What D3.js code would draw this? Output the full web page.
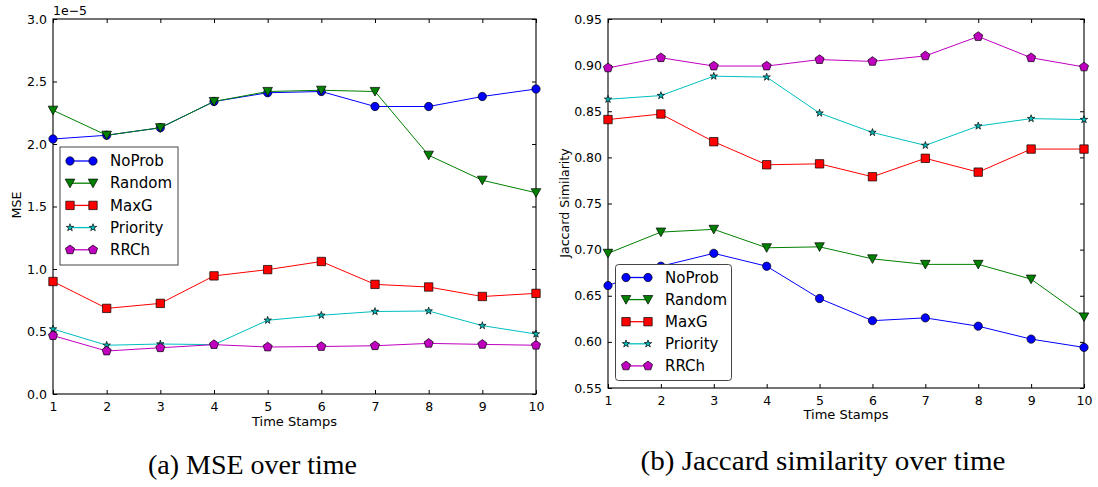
<!DOCTYPE html>
<html><head><meta charset="utf-8">
<script src="https://cdn.jsdelivr.net/npm/d3@7"></script>
<style>body{margin:0;background:#fff}svg{display:block}</style>
</head><body>
<svg id="c" width="1098" height="487"></svg>
<script>
const timeStamps = [1,2,3,4,5,6,7,8,9,10];
const seriesNames = ["NoProb","Random","MaxG","Priority","RRCh"];
const seriesColors = ["#0000ff","#008000","#ff0000","#00bfbf","#bf00bf"];
const seriesMarkers = ["circle","triangleDown","square","star","pentagon"];

// MSE (x 1e-5)
const mseNoProb   = [2.04,2.07,2.13,2.34,2.41,2.42,2.30,2.30,2.38,2.44];
const mseRandom   = [2.27,2.07,2.13,2.34,2.42,2.43,2.42,1.91,1.71,1.61];
const mseMaxG     = [0.90,0.685,0.725,0.945,0.995,1.06,0.877,0.856,0.78,0.805];
const msePriority = [0.52,0.39,0.40,0.395,0.59,0.63,0.66,0.664,0.547,0.48];
const mseRRCh     = [0.467,0.344,0.37,0.395,0.376,0.38,0.386,0.405,0.397,0.39];
const mseTicks = [0.0,0.5,1.0,1.5,2.0,2.5,3.0];

// Jaccard similarity
const jacNoProb   = [0.661,0.682,0.696,0.682,0.647,0.623,0.626,0.617,0.603,0.594];
const jacRandom   = [0.696,0.719,0.722,0.702,0.703,0.690,0.684,0.684,0.668,0.627];
const jacMaxG     = [0.841,0.847,0.817,0.792,0.793,0.779,0.799,0.784,0.809,0.809];
const jacPriority = [0.863,0.867,0.888,0.887,0.848,0.827,0.813,0.834,0.842,0.841];
const jacRRCh     = [0.897,0.908,0.899,0.899,0.906,0.904,0.910,0.931,0.908,0.898];
const jacTicks = [0.55,0.60,0.65,0.70,0.75,0.80,0.85,0.90,0.95];

const svg = d3.select("#c");
const FONT = "'DejaVu Sans', sans-serif";
const SERIF = "'Liberation Serif', 'Times New Roman', Times, serif";

function markerPath(type){
  const p = d3.path();
  if(type==="circle"){ return d3.symbol(d3.symbolCircle, 54)(); }
  if(type==="square"){ const s=4.2; p.rect(-s,-s,2*s,2*s); return p.toString(); }
  if(type==="triangleDown"){ const s=4.8; p.moveTo(-s,-s*0.85); p.lineTo(s,-s*0.85); p.lineTo(0,s*0.95); p.closePath(); return p.toString(); }
  if(type==="star"){ return d3.symbol(d3.symbolStar, 17)(); }
  if(type==="pentagon"){ const r=4.8; for(let i=0;i<5;i++){const a=-Math.PI/2+i*2*Math.PI/5; const x=r*Math.cos(a), y=r*Math.sin(a); if(i===0)p.moveTo(x,y); else p.lineTo(x,y);} p.closePath(); return p.toString(); }
}

function drawChart(cfg){
  const g = svg.append("g");
  const x = d3.scaleLinear().domain([1,10]).range([cfg.left,cfg.right]);
  const y = d3.scaleLinear().domain(cfg.domain).range([cfg.bottom,cfg.top]);
  const tl = 4;
  const axL = g.append("g").attr("transform",`translate(${cfg.left},0)`)
    .call(d3.axisLeft(y).tickValues(cfg.yTicks).tickFormat(cfg.yFmt).tickSizeInner(-tl).tickSizeOuter(0).tickPadding(6));
  const axR = g.append("g").attr("transform",`translate(${cfg.right},0)`)
    .call(d3.axisRight(y).tickValues(cfg.yTicks).tickFormat("").tickSizeInner(-tl).tickSizeOuter(0));
  const axB = g.append("g").attr("transform",`translate(0,${cfg.bottom})`)
    .call(d3.axisBottom(x).tickValues(timeStamps).tickFormat(d3.format("d")).tickSizeInner(-tl).tickSizeOuter(0).tickPadding(8));
  const axT = g.append("g").attr("transform",`translate(0,${cfg.top})`)
    .call(d3.axisTop(x).tickValues(timeStamps).tickFormat("").tickSizeInner(-tl).tickSizeOuter(0));
  [axL,axR,axB,axT].forEach(a=>{
    a.select(".domain").remove();
    a.selectAll("line").attr("stroke","#000").attr("stroke-width",1);
    a.selectAll("text").attr("font-family",FONT).attr("font-size",12.5).attr("fill","#000");
  });
  axB.selectAll("text").attr("dy","0.71em");
  g.append("rect").attr("x",cfg.left).attr("y",cfg.top).attr("width",cfg.right-cfg.left).attr("height",cfg.bottom-cfg.top)
    .attr("fill","none").attr("stroke","#000").attr("stroke-width",1.1);

  const line = d3.line().x((d,i)=>x(timeStamps[i])).y(d=>y(d));
  cfg.series.forEach((vals,si)=>{
    g.append("path").datum(vals).attr("d",line).attr("fill","none")
      .attr("stroke",seriesColors[si]).attr("stroke-width",1);
    g.selectAll(null).data(vals).enter().append("path")
      .attr("d",markerPath(seriesMarkers[si]))
      .attr("transform",(d,i)=>`translate(${x(timeStamps[i])},${y(d)})`)
      .attr("fill",seriesColors[si]).attr("stroke","#000").attr("stroke-width",0.7);
  });

  g.append("text").attr("x",(cfg.left+cfg.right)/2).attr("y",cfg.xLabelY).attr("text-anchor","middle")
    .attr("font-family",FONT).attr("font-size",13).text("Time Stamps");
  g.append("text").attr("transform",`translate(${cfg.yLabelX},${cfg.yLabelCY}) rotate(-90)`).attr("text-anchor","middle")
    .attr("font-family",FONT).attr("font-size",12.6).text(cfg.yLabel);

  const L = cfg.legend;
  const lg = g.append("g");
  lg.append("rect").attr("x",L.x).attr("y",L.y).attr("width",L.w).attr("height",L.h).attr("rx",L.rx)
    .attr("fill","#fff").attr("stroke","#444").attr("stroke-width",1);
  seriesNames.forEach((n,si)=>{
    const yy = L.row0 + si*L.dy;
    lg.append("line").attr("x1",L.h1).attr("x2",L.h2).attr("y1",yy).attr("y2",yy)
      .attr("stroke",seriesColors[si]).attr("stroke-width",1.3);
    [L.h1,L.h2].forEach(hx=>{
      lg.append("path").attr("d",markerPath(seriesMarkers[si])).attr("transform",`translate(${hx},${yy})`)
        .attr("fill",seriesColors[si]).attr("stroke","#000").attr("stroke-width",0.7);
    });
    lg.append("text").attr("x",L.tx).attr("y",yy).attr("dy","0.35em").attr("font-family",FONT)
      .attr("font-size",15).text(n);
  });
  return g;
}

const gA = drawChart({
  left:53, right:536, top:19, bottom:394, domain:[0,3.0], yTicks:mseTicks, yFmt:d3.format(".1f"),
  series:[mseNoProb,mseRandom,mseMaxG,msePriority,mseRRCh],
  xLabelY:426, yLabel:"MSE", yLabelX:21, yLabelCY:205,
  legend:{x:60,y:147,w:118,h:118,rx:0,row0:161,dy:22.2,h1:70,h2:93,tx:110}
});
gA.append("text").attr("x",53).attr("y",15).attr("font-family",FONT).attr("font-size",12.5).text("1e\u22125");

drawChart({
  left:608, right:1084, top:19, bottom:388, domain:[0.55,0.95], yTicks:jacTicks, yFmt:d3.format(".2f"),
  series:[jacNoProb,jacRandom,jacMaxG,jacPriority,jacRRCh],
  xLabelY:419, yLabel:"Jaccard Similarity", yLabelX:569, yLabelCY:203,
  legend:{x:615.5,y:264.5,w:116,h:116,rx:3,row0:277.5,dy:22.1,h1:626,h2:648,tx:665}
});

svg.append("text").attr("x",252.5).attr("y",474).attr("text-anchor","middle")
  .attr("font-family",SERIF).attr("font-size",27)
  .attr("textLength",209).attr("lengthAdjust","spacingAndGlyphs").text("(a) MSE over time");
svg.append("text").attr("x",823).attr("y",470).attr("text-anchor","middle")
  .attr("font-family",SERIF).attr("font-size",27)
  .attr("textLength",365).attr("lengthAdjust","spacingAndGlyphs").text("(b) Jaccard similarity over time");
</script>
</body></html>
